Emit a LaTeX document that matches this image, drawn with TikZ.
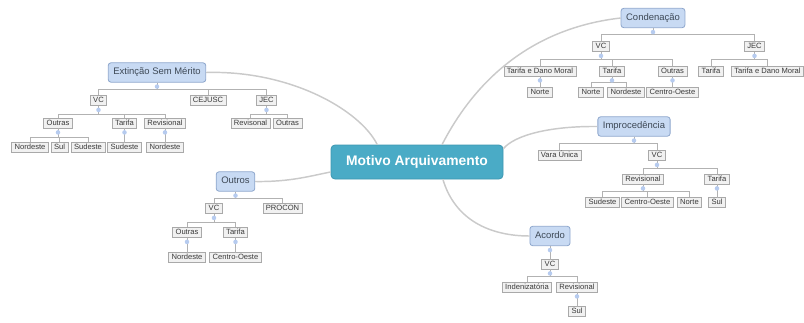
\documentclass[tikz,border=0pt]{standalone}
\usepackage{fontspec}
\setmainfont{Liberation Sans}
\usetikzlibrary{calc}
\definecolor{leafdraw}{HTML}{A9A9A9}
\definecolor{leaffill}{HTML}{F1F1F1}
\definecolor{leaftext}{HTML}{3A3A3A}
\definecolor{topicdraw}{HTML}{8DA6CC}
\definecolor{topicfill}{HTML}{C8DAF3}
\definecolor{topictext}{HTML}{3E4956}
\definecolor{centfill}{HTML}{4AABC6}
\definecolor{centdraw}{HTML}{3C97B1}
\definecolor{edgec}{HTML}{B2B2B2}
\definecolor{dotcol}{HTML}{B6CBEF}
\definecolor{curvec}{HTML}{CACACA}
\tikzset{
 leaf/.style={draw=leafdraw, fill=leaffill, text=leaftext, font=\fontsize{5.7}{6}\selectfont,
   inner xsep=2.2pt, inner ysep=0pt, text height=4.2pt, text depth=1.2pt, minimum height=7.6pt, line width=0.5pt},
 topic/.style={draw=topicdraw, fill=topicfill, text=topictext, font=\fontsize{7.1}{8}\selectfont,
   rounded corners=2pt, inner xsep=3.8pt, inner ysep=0pt, text height=5.3pt, text depth=1.6pt, minimum height=14.5pt, line width=0.6pt},
 central/.style={draw=centdraw, fill=centfill, text=white, font=\fontsize{10.4}{12}\selectfont\bfseries,
   rounded corners=3pt, minimum width=129pt, minimum height=25.5pt, line width=0.6pt},
 edge/.style={draw=edgec, line width=0.5pt},
 dotc/.style={fill=dotcol},
 main/.style={draw=curvec, line width=1.1pt},
}
\newcommand\mmtree[3]{%
  \draw[edge] (#1.south) -- ++(0,#2) coordinate (#1-bar);
  \foreach \c in {#3} {\draw[edge] (\c.north) |- (#1-bar);}
  \fill[dotc] (#1.south) ++(0,4) circle (1.7pt);
}
\begin{document}
\begin{tikzpicture}[x=0.75pt,y=-0.75pt]
\useasboundingbox (0,0) rectangle (804,322);

% central
\node[central] (M) at (417,162) {Motivo Arquivamento};

% Extincao
\node[topic] (ext) at (157,72.5) {Extinção Sem Mérito};
\node[leaf] (evc) at (98.5,100.5) {VC};
\node[leaf] (ecej) at (208,100.5) {CEJUSC};
\node[leaf] (ejec) at (266.5,100.5) {JEC};
\node[leaf] (evcout) at (58,123) {Outras};
\node[leaf] (evctar) at (124.5,123) {Tarifa};
\node[leaf] (evcrev) at (165,123) {Revisional};
\node[leaf] (ejecrev) at (250.5,123) {Revisonal};
\node[leaf] (ejecout) at (287.5,123) {Outras};
\node[leaf] (eno) at (30,147.5) {Nordeste};
\node[leaf] (esul) at (59.5,147.5) {Sul};
\node[leaf] (esud) at (88,147.5) {Sudeste};
\node[leaf] (etsud) at (124.5,147.5) {Sudeste};
\node[leaf] (erno) at (165,147.5) {Nordeste};
\mmtree{ext}{7}{evc,ecej,ejec}
\mmtree{evc}{8}{evcout,evctar,evcrev}
\mmtree{ejec}{8}{ejecrev,ejecout}
\mmtree{evcout}{9}{eno,esul,esud}
\mmtree{evctar}{15}{etsud}
\mmtree{evcrev}{15}{erno}

% Outros
\node[topic] (out) at (235.5,181.5) {Outros};
\node[leaf] (ovc) at (214,208.5) {VC};
\node[leaf] (opro) at (282.5,208.5) {PROCON};
\node[leaf] (oout) at (187,232.5) {Outras};
\node[leaf] (otar) at (235.5,232.5) {Tarifa};
\node[leaf] (ono) at (187,257) {Nordeste};
\node[leaf] (oco) at (235.5,257) {Centro-Oeste};
\mmtree{out}{7}{ovc,opro}
\mmtree{ovc}{8}{oout,otar}
\mmtree{oout}{15}{ono}
\mmtree{otar}{15}{oco}

% Condenacao
\node[topic] (cond) at (653,18) {Condenação};
\node[leaf] (cvc) at (601,46.5) {VC};
\node[leaf] (cjec) at (754.5,46.5) {JEC};
\node[leaf] (ctdm) at (540,71) {Tarifa e Dano Moral};
\node[leaf] (ctar) at (612,71) {Tarifa};
\node[leaf] (cout) at (672.5,71) {Outras};
\node[leaf] (cjtar) at (711,71) {Tarifa};
\node[leaf] (cjtdm) at (767.5,71) {Tarifa e Dano Moral};
\node[leaf] (ctdmno) at (540,92) {Norte};
\node[leaf] (ctno) at (591,92) {Norte};
\node[leaf] (ctnord) at (626,92) {Nordeste};
\node[leaf] (coco) at (672.5,92) {Centro-Oeste};
\mmtree{cond}{6}{cvc,cjec}
\mmtree{cvc}{7}{ctdm,ctar,cout}
\mmtree{cjec}{7}{cjtar,cjtdm}
\mmtree{ctdm}{11}{ctdmno}
\mmtree{ctar}{6}{ctno,ctnord}
\mmtree{cout}{11}{coco}

% Improcedencia
\node[topic] (imp) at (634,126.5) {Improcedência};
\node[leaf] (ivara) at (559.5,155.5) {Vara Única};
\node[leaf] (ivc) at (657,155.5) {VC};
\node[leaf] (irev) at (643,179) {Revisional};
\node[leaf] (itar) at (717,179) {Tarifa};
\node[leaf] (isud) at (602.5,202) {Sudeste};
\node[leaf] (ico) at (647.5,202) {Centro-Oeste};
\node[leaf] (inor) at (689.5,202) {Norte};
\node[leaf] (isul) at (717,202) {Sul};
\mmtree{imp}{7}{ivara,ivc}
\mmtree{ivc}{7}{irev,itar}
\mmtree{irev}{7}{isud,ico,inor}
\mmtree{itar}{13}{isul}

% Acordo
\node[topic] (aco) at (550,236) {Acordo};
\node[leaf] (avc) at (550,264) {VC};
\node[leaf] (aind) at (527,287) {Indenizatória};
\node[leaf] (arev) at (577,287) {Revisional};
\node[leaf] (asul) at (577,311.5) {Sul};
\mmtree{aco}{13}{avc}
\mmtree{avc}{7}{aind,arev}
\mmtree{arev}{14}{asul}

% main curves
\draw[main] (ext.east) .. controls (290,70) and (360,110) .. ($(M.north west)!0.27!(M.north east)$);
\draw[main] (out.east) .. controls (290,182) and (310,176) .. ($(M.west)+(0,10)$);
\draw[main] (cond.west) .. controls (515,30) and (465,100) .. ($(M.north west)!0.645!(M.north east)$);
\draw[main] (imp.west) .. controls (550,126) and (515,135) .. ($(M.north east)+(0,4)$);
\draw[main] ($(M.south west)!0.65!(M.south east)$) .. controls (455,220) and (490,236) .. (aco.west);
\end{tikzpicture}
\end{document}
